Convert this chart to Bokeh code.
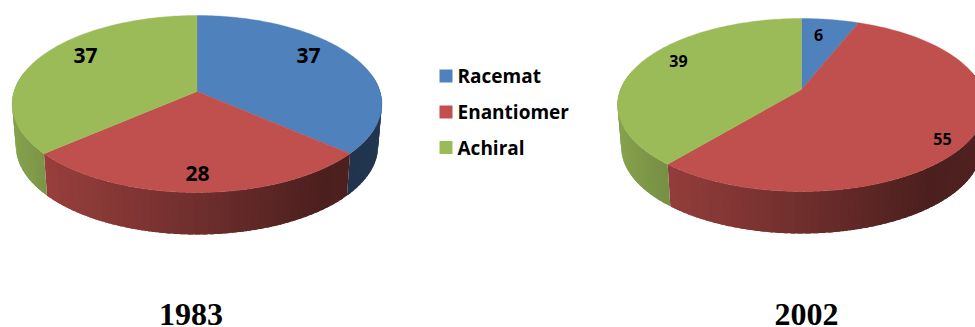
import numpy as np
from bokeh.core.properties import value
from bokeh.embed import file_html
from bokeh.models import ColumnDataSource, Range1d
from bokeh.plotting import figure
from bokeh.resources import INLINE

# Shares of new drugs by stereochemistry
categories = ["Racemat", "Enantiomer", "Achiral"]
values_1983 = [37, 28, 37]
values_2002 = [6, 55, 39]
years = ["1983", "2002"]

top_colors = [(79, 129, 189), (192, 80, 77), (155, 187, 89)]

# Darkening across the width of a disc's side wall
shade_pos = [0.0, 0.1, 0.5, 0.85, 1.0]
shade_val = [0.86, 0.78, 0.58, 0.39, 0.42]

# Disc layout in page pixels: centre x, hub y, rim top y, rim bottom y, half width
DISC_1983 = dict(cx=196.5, hub=91, top=15, bottom=192, rx=183)
DISC_2002 = dict(cx=801, hub=89, top=18, bottom=191, rx=181)
DEPTH = 42
WALL_TAPER = 0.98


def rim(disc, theta):
    """Perspective projection of a circle; theta runs clockwise from 12 o'clock."""
    hub, top, bottom = disc["hub"], disc["top"], disc["bottom"]
    c = (bottom + top - 2 * hub) / (bottom - top)
    a = top * (1 + c) - hub
    u, v = np.sin(theta), np.cos(theta)
    w = 1 + c * v
    return disc["cx"] + disc["rx"] * u / w, (a * v + hub) / w


def hex_color(rgb):
    return "#%02x%02x%02x" % tuple(int(round(min(255, ch))) for ch in rgb)


def draw_disc(p, disc, shares):
    edges = np.cumsum([0] + list(shares)) / sum(shares) * 2 * np.pi

    # Side wall strips, only where the rim faces the viewer.  Each strip runs
    # under its neighbour so that no seam shows between them.
    overlap = np.radians(1.5)
    for i, col in enumerate(top_colors):
        n = max(int(np.degrees(edges[i + 1] - edges[i]) / 2), 2)
        th = np.linspace(edges[i], edges[i + 1], n + 1)
        xs, ys, cols = [], [], []
        for t0, t1 in zip(th[:-1], th[1:]):
            if np.cos((t0 + t1) / 2) > 0.2:
                continue
            t_end = min(t1 + overlap, edges[i + 1])
            arc = np.linspace(t0, t_end, 6)
            ax, ay = rim(disc, arc)
            bx = disc["cx"] + (ax - disc["cx"]) * WALL_TAPER
            by = ay + DEPTH
            xs.append([*ax, *bx[::-1]])
            ys.append([*ay, *by[::-1]])
            mid_x, _ = rim(disc, (t0 + t1) / 2)
            f = (mid_x - disc["cx"] + disc["rx"]) / (2 * disc["rx"])
            s = np.interp(f, shade_pos, shade_val)
            cols.append(hex_color([ch * s for ch in col]))
        if xs:
            p.patches(xs, ys, fill_color=cols, line_color=None)

    # Top face wedges
    xs, ys, cols = [], [], []
    for i, col in enumerate(top_colors):
        th = np.linspace(edges[i], edges[i + 1], 120)
        rx, ry = rim(disc, th)
        xs.append([disc["cx"], *rx])
        ys.append([disc["hub"], *ry])
        cols.append(hex_color(col))
    p.patches(xs, ys, fill_color=cols, line_color=cols, line_width=0.4)


p = figure(width=975, height=327, output_backend="svg", toolbar_location=None,
           x_range=Range1d(0, 975), y_range=Range1d(327, 0), min_border=0)
p.axis.visible = False
p.grid.visible = False
p.outline_line_color = None

draw_disc(p, DISC_1983, values_1983)
draw_disc(p, DISC_2002, values_2002)


def labels(xs, ys, texts, size, font="Open Sans", style="bold", align="center"):
    src = ColumnDataSource(dict(x=xs, y=ys, t=texts))
    p.text("x", "y", text="t", source=src, text_font=value(font), text_font_style=style,
           text_font_size=size, text_align=align, text_baseline="middle", text_color="#000000")


labels([308, 197, 85], [55, 173, 55], [str(v) for v in values_1983], "21px")
labels([818, 942, 678], [34, 138, 60], [str(v) for v in values_2002], "16px")

# Legend between the two discs
legend_y = [75.5, 111.5, 147]
p.rect([445.5] * 3, legend_y, width=13, height=13,
       fill_color=[hex_color(c) for c in top_colors], line_color=None)
labels([457] * 3, legend_y, categories, "19px", align="left")

# Year captions
labels([190.5, 806], [314, 314], years, "32px", font="Liberation Serif")

open("out.html", "w").write(file_html(p, INLINE))
